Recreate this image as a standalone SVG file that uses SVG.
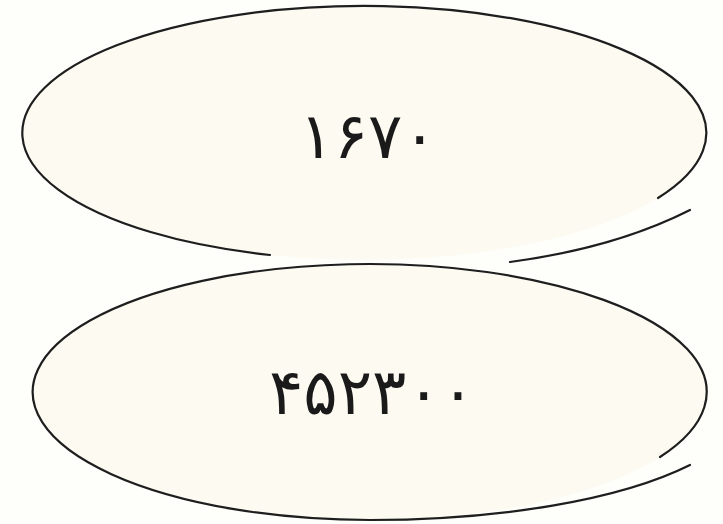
<svg xmlns="http://www.w3.org/2000/svg" width="723" height="524" viewBox="0 0 723 524">
  <style>
    .fill { fill: #fdfbf1; stroke: none; }
    .line { fill: none; stroke: #1e1e1e; stroke-width: 2.2; stroke-linecap: round; }
    .num { font-family: "DejaVu Sans", "Noto Sans", sans-serif; font-size: 64px; fill: #1a1a1a; text-anchor: middle; }
  </style>
  <rect width="723" height="524" fill="#fefefb"/>
  <g id="node-top">
    <ellipse class="fill" cx="364" cy="133" rx="342" ry="127"/>
    <path class="line" d="M 658 198 A 342 127 0 1 0 270 255"/>
    <path class="line" d="M 510 262 Q 615 248 690 210"/>
    <text class="num" x="368" y="158">۱۶۷۰</text>
  </g>
  <g id="node-bottom">
    <ellipse class="fill" cx="370" cy="392" rx="337" ry="128"/>
    <path class="line" d="M 660 457 A 337 128 0 1 0 370 520 C 500 520 620 500 690 465"/>
    <text class="num" x="372" y="414">۴۵۲۳۰۰</text>
  </g>
</svg>
